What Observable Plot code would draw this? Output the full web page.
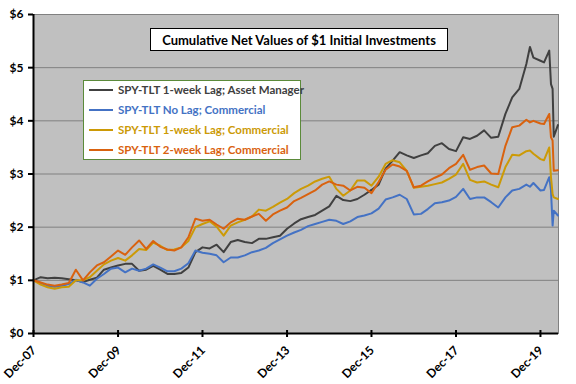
<!DOCTYPE html>
<html><head><meta charset="utf-8">
<script src="https://cdn.jsdelivr.net/npm/d3@7"></script>
<script src="https://cdn.jsdelivr.net/npm/@observablehq/plot@0.6"></script>
<style>
body{margin:0;background:#fff;}
#chart{width:576px;height:384px;}
</style></head><body><div id="chart"></div>
<script>
const dates = [
"2007-12-01","2008-02-01","2008-04-01","2008-06-01","2008-08-01","2008-10-01","2008-12-01","2009-02-01","2009-04-01","2009-06-01",
"2009-08-01","2009-10-01","2009-12-01","2010-02-01","2010-04-01","2010-06-01","2010-08-01","2010-10-01","2010-12-01","2011-02-01",
"2011-04-01","2011-06-01","2011-08-01","2011-10-01","2011-12-01","2012-02-01","2012-04-01","2012-06-01","2012-08-01","2012-10-01",
"2012-12-01","2013-02-01","2013-04-01","2013-06-01","2013-08-01","2013-10-01","2013-12-01","2014-02-01","2014-04-01","2014-06-01",
"2014-08-01","2014-10-01","2014-12-01","2015-02-01","2015-04-01","2015-06-01","2015-08-01","2015-10-01","2015-12-01","2016-02-01",
"2016-04-01","2016-06-01","2016-08-01","2016-10-01","2016-12-01","2017-02-01","2017-04-01","2017-06-01","2017-08-01","2017-10-01",
"2017-12-01","2018-02-01","2018-04-01","2018-06-01","2018-08-01","2018-10-01","2018-12-01","2019-02-01","2019-04-01","2019-06-01",
"2019-08-01","2019-09-01","2019-10-01","2019-12-01","2020-01-01","2020-02-15","2020-03-01","2020-03-15","2020-03-25","2020-04-30"];

const assetManager1wk = [
1.00,1.06,1.04,1.05,1.04,1.02,1.00,0.97,1.01,1.05,
1.20,1.24,1.28,1.31,1.31,1.18,1.20,1.27,1.20,1.12,
1.12,1.14,1.24,1.53,1.62,1.60,1.67,1.53,1.72,1.76,
1.72,1.70,1.78,1.78,1.81,1.84,1.97,2.07,2.15,2.19,
2.23,2.31,2.39,2.59,2.51,2.49,2.53,2.61,2.70,2.80,
3.10,3.25,3.41,3.35,3.30,3.35,3.39,3.53,3.58,3.47,
3.43,3.69,3.66,3.72,3.82,3.68,3.70,4.13,4.44,4.60,
5.07,5.39,5.19,5.13,5.10,5.32,4.69,4.60,3.70,3.92];

const commercialNoLag = [
1.00,0.95,0.90,0.88,0.90,0.93,1.01,0.96,0.90,1.03,
1.12,1.22,1.24,1.15,1.22,1.18,1.22,1.30,1.24,1.17,
1.17,1.22,1.32,1.56,1.52,1.50,1.47,1.34,1.43,1.43,
1.47,1.53,1.56,1.61,1.70,1.77,1.84,1.90,1.95,2.02,
2.06,2.10,2.14,2.12,2.06,2.11,2.19,2.22,2.26,2.35,
2.52,2.56,2.61,2.53,2.24,2.25,2.34,2.45,2.47,2.50,
2.57,2.72,2.53,2.56,2.56,2.47,2.37,2.56,2.69,2.72,
2.80,2.76,2.83,2.69,2.70,2.94,2.69,2.03,2.31,2.22];

const commercial1wk = [
1.00,0.92,0.87,0.84,0.87,0.88,1.00,1.00,1.06,1.18,
1.30,1.37,1.42,1.37,1.47,1.59,1.57,1.71,1.65,1.57,
1.58,1.62,1.74,2.00,2.06,2.11,2.01,1.84,2.03,2.09,
2.14,2.20,2.33,2.31,2.38,2.46,2.53,2.64,2.72,2.78,
2.86,2.91,2.95,2.72,2.59,2.69,2.88,2.88,2.78,2.95,
3.19,3.26,3.22,3.06,2.74,2.76,2.78,2.81,2.84,2.91,
2.99,3.19,2.89,2.84,2.86,2.80,2.75,3.13,3.36,3.35,
3.43,3.44,3.38,3.28,3.26,3.50,2.94,2.62,2.56,2.53];

const commercial2wk = [
1.00,0.96,0.92,0.90,0.92,0.95,1.20,1.00,1.15,1.28,
1.34,1.45,1.56,1.48,1.62,1.75,1.59,1.74,1.63,1.58,
1.56,1.62,1.81,2.16,2.12,2.14,2.05,1.97,2.09,2.16,
2.14,2.20,2.25,2.12,2.24,2.31,2.37,2.49,2.55,2.62,
2.69,2.80,2.86,2.80,2.78,2.69,2.76,2.74,2.64,2.85,
3.08,3.18,3.14,3.06,2.75,2.78,2.86,2.93,2.99,3.11,
3.19,3.36,3.08,3.13,3.16,3.01,3.00,3.53,3.88,3.91,
4.02,3.97,4.00,3.95,3.94,4.13,3.69,3.63,3.06,3.07];

const seriesNames = [
  "SPY-TLT 1-week Lag; Asset Manager",
  "SPY-TLT No Lag; Commercial",
  "SPY-TLT 1-week Lag; Commercial",
  "SPY-TLT 2-week Lag; Commercial"];
const seriesColors = ["#404040", "#4472c4", "#cc9a06", "#d9620f"];
const seriesValues = [assetManager1wk, commercialNoLag, commercial1wk, commercial2wk];

const title = "Cumulative Net Values of $1 Initial Investments";
const yTicks = [0, 1, 2, 3, 4, 5, 6];
const xTickDates = ["2007-12-01","2009-12-01","2011-12-01","2013-12-01","2015-12-01","2017-12-01","2019-12-01"];
const xTickLabels = ["Dec-07","Dec-09","Dec-11","Dec-13","Dec-15","Dec-17","Dec-19"];
const xDomain = ["2007-12-01", "2020-05-05"];

const parse = s => new Date(s + "T00:00:00Z");
const rows = seriesNames.flatMap((name, i) =>
  dates.map((d, j) => ({date: parse(d), value: seriesValues[i][j], series: name})));
const xTicks = xTickDates.map(parse);

const font = "Lato, 'Open Sans', sans-serif";

const plot = Plot.plot({
  width: 576, height: 384,
  marginLeft: 33, marginRight: 18, marginTop: 14, marginBottom: 51,
  style: {fontFamily: font, fontWeight: "bold", fontSize: "12px", color: "#000", background: "#fff", overflow: "visible"},
  x: {type: "utc", domain: xDomain.map(parse), label: null, axis: null},
  y: {domain: [0, 6], label: null, axis: null},
  color: {domain: seriesNames, range: seriesColors},
  marks: [
    Plot.frame({fill: "#c0c0c0", stroke: "#808080"}),
    Plot.ruleY(yTicks.slice(1), {stroke: "#808080", strokeWidth: 1}),
    Plot.line(rows, {x: "date", y: "value", z: "series", stroke: "series", strokeWidth: 2}),
    Plot.ruleX([parse(xDomain[0])], {stroke: "#000", strokeWidth: 2}),
    Plot.ruleY([0], {stroke: "#000", strokeWidth: 2}),
    Plot.axisY({ticks: yTicks, tickFormat: d => "$" + d, tickSize: 5, tickPadding: 5, strokeWidth: 2, fill: "#000", label: null}),
    Plot.axisX({ticks: xTicks, tickSize: 7, dy: -3, tickFormat: () => "", strokeWidth: 2, label: null})
  ]
});

const svg = d3.select(plot);
const xs = plot.scale("x");
const ys = plot.scale("y");
const y0 = ys.apply(0);
// rotated x tick labels, placed through the plot's x scale
const xl = svg.append("g");
xTicks.forEach((d, i) => {
  xl.append("text")
    .attr("transform", `translate(${xs.apply(d) + 4},${y0 + 18}) rotate(-45)`)
    .attr("text-anchor", "end").attr("font-family", font).attr("font-weight", "bold")
    .attr("font-size", 12).attr("fill", "#000").text(xTickLabels[i]);
});
// Title box
const tg = svg.append("g");
tg.append("rect").attr("x", 150.5).attr("y", 28.5).attr("width", 297).attr("height", 22)
  .attr("fill", "#fff").attr("stroke", "#000").attr("stroke-width", 1);
tg.append("text").attr("x", 299).attr("y", 44.5).attr("text-anchor", "middle")
  .attr("font-family", font).attr("font-weight", "bold").attr("font-size", 13).attr("fill", "#000")
  .text(title);
// Legend box
const lg = svg.append("g");
lg.append("rect").attr("x", 83.5).attr("y", 80.5).attr("width", 217).attr("height", 79)
  .attr("fill", "#fff").attr("stroke", "#5b8a3a").attr("stroke-width", 1);
seriesNames.forEach((name, i) => {
  const y = 90 + 20 * i;
  lg.append("line").attr("x1", 89).attr("x2", 113).attr("y1", y).attr("y2", y)
    .attr("stroke", seriesColors[i]).attr("stroke-width", 2);
  lg.append("text").attr("x", 118).attr("y", y + 4).attr("text-anchor", "start")
    .attr("font-family", font).attr("font-weight", "bold").attr("font-size", 11.5)
    .attr("fill", seriesColors[i]).text(name);
});

document.getElementById("chart").appendChild(plot);
</script></body></html>
